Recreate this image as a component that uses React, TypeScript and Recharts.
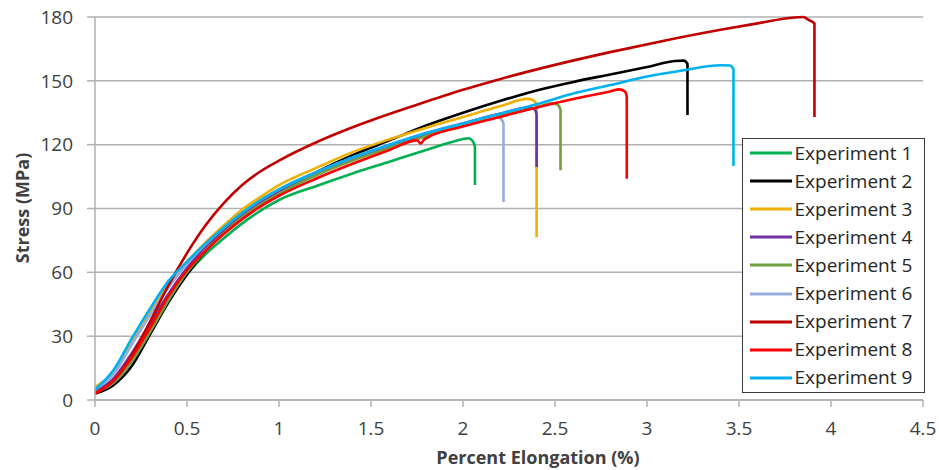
import { LineChart, Line, XAxis, YAxis, CartesianGrid, Legend, Label } from 'recharts'

// ── data ──────────────────────────────────────────────────────────────────────

type Pt = [number, number] // [elongation %, stress MPa]

const exp1: Pt[] = [
  [0, 4], [0.1, 9], [0.2, 19], [0.3, 33], [0.4, 47], [0.5, 59], [0.6, 68.5], [0.7, 76],
  [0.8, 83], [0.9, 89], [1.0, 94], [1.2, 100.5], [1.4, 106.5], [1.6, 112], [1.8, 117.5],
  [1.95, 121.5], [2.03, 123], [2.05, 122], [2.065, 119], [2.065, 101],
]
const exp2: Pt[] = [
  [0, 3], [0.1, 7], [0.2, 16], [0.3, 31], [0.4, 46], [0.5, 59], [0.6, 70], [0.7, 79],
  [0.8, 87], [0.9, 93], [1.0, 98], [1.2, 107], [1.4, 115], [1.6, 122], [1.8, 129], [2.0, 135],
  [2.2, 140.5], [2.4, 145.5], [2.6, 149.5], [2.8, 153], [3.0, 156.5], [3.15, 159.3],
  [3.2, 159.5], [3.22, 158], [3.22, 134],
]
const exp3: Pt[] = [
  [0, 6], [0.1, 13], [0.2, 27], [0.3, 41], [0.4, 54], [0.5, 65], [0.6, 74], [0.7, 82],
  [0.8, 89.5], [0.9, 95.5], [1.0, 101], [1.2, 109], [1.4, 116.5], [1.6, 122.5], [1.8, 128],
  [2.0, 133], [2.2, 138], [2.35, 141.5], [2.38, 141], [2.4, 138.5], [2.4, 76.5],
]
const exp4: Pt[] = [
  [0, 4], [0.1, 10], [0.2, 22], [0.3, 36], [0.4, 50], [0.5, 62], [0.6, 72], [0.7, 80],
  [0.8, 87], [0.9, 93], [1.0, 98], [1.2, 106.5], [1.4, 113.5], [1.6, 119.5], [1.8, 125],
  [2.0, 130], [2.2, 134.5], [2.36, 137.5], [2.39, 136.5], [2.4, 134], [2.4, 109.5],
]
const exp5: Pt[] = [
  [0, 3.5], [0.1, 8], [0.2, 18], [0.3, 32], [0.4, 47], [0.5, 60], [0.6, 70], [0.7, 78.5],
  [0.8, 86], [0.9, 92], [1.0, 97], [1.2, 105.5], [1.4, 112.5], [1.6, 118.5], [1.8, 124],
  [2.0, 129], [2.2, 133.5], [2.4, 137.5], [2.48, 139.5], [2.51, 139], [2.53, 136.5], [2.53, 108],
]
const exp6: Pt[] = [
  [0, 5], [0.1, 12], [0.2, 26], [0.3, 40], [0.4, 53], [0.5, 64], [0.6, 73], [0.7, 81],
  [0.8, 88], [0.9, 94], [1.0, 99], [1.2, 107], [1.4, 114], [1.6, 120], [1.8, 125.5],
  [2.0, 130], [2.17, 133], [2.2, 132.5], [2.22, 130], [2.22, 93],
]
const exp7: Pt[] = [
  [0, 3], [0.1, 9], [0.2, 21], [0.3, 37], [0.4, 54], [0.5, 69], [0.6, 82], [0.7, 92.5],
  [0.8, 101], [0.9, 107.5], [1.0, 112.5], [1.2, 121], [1.45, 129.8], [1.75, 138.8],
  [2.0, 145.8], [2.2, 150.8], [2.5, 157.5], [2.8, 163.5], [3.1, 169],
  [3.4, 174], [3.6, 177], [3.8, 179.8], [3.85, 180], [3.88, 178.5], [3.91, 177], [3.91, 133],
]
const exp8: Pt[] = [
  [0, 3], [0.1, 9], [0.2, 20], [0.3, 34], [0.4, 49], [0.5, 61], [0.6, 70], [0.7, 78],
  [0.8, 85], [0.9, 91], [1.0, 96], [1.2, 104], [1.4, 111], [1.6, 117.5], [1.75, 122],
  [1.77, 120.5], [1.79, 122.5], [2.0, 128.5], [2.2, 133], [2.4, 137.5], [2.6, 141.5],
  [2.8, 145], [2.85, 146], [2.88, 145], [2.89, 142.5], [2.89, 104],
]
const exp9: Pt[] = [
  [0, 5], [0.1, 14], [0.2, 29], [0.3, 43], [0.4, 56], [0.5, 65], [0.6, 73.5], [0.7, 81],
  [0.8, 88], [0.9, 94], [1.0, 99], [1.2, 107], [1.4, 114], [1.6, 120], [1.8, 125.5],
  [2.0, 130], [2.2, 134.5], [2.4, 139], [2.6, 144], [2.8, 148], [3.0, 152], [3.2, 155],
  [3.4, 157.3], [3.45, 157.2], [3.47, 155.5], [3.47, 110],
]

const seriesNames = [
  'Experiment 1', 'Experiment 2', 'Experiment 3', 'Experiment 4', 'Experiment 5',
  'Experiment 6', 'Experiment 7', 'Experiment 8', 'Experiment 9',
]
const seriesData = [exp1, exp2, exp3, exp4, exp5, exp6, exp7, exp8, exp9]
const seriesColors = [
  '#00B050', '#000000', '#F0B000', '#7030A0', '#70A040',
  '#97ABDC', '#C00000', '#FF0000', '#00B0F0',
]

const xTicks = [0, 0.5, 1, 1.5, 2, 2.5, 3, 3.5, 4, 4.5]
const yTicks = [0, 30, 60, 90, 120, 150, 180]

// ── styling ───────────────────────────────────────────────────────────────────

const FONT = "'Open Sans', sans-serif"
const GRID = '#B0B0B0'
const TEXT = '#404040'

function LegendBox() {
  return (
    <div
      style={{
        width: 183,
        height: 255,
        boxSizing: 'border-box',
        border: '1.5px solid #3a3a3a',
        background: '#fff',
        fontFamily: FONT,
        fontSize: 19,
        color: '#262626',
      }}
    >
      {seriesNames.map((name, i) => (
        <div key={name} style={{ height: 28.1, display: 'flex', alignItems: 'center' }}>
          <svg width={42} height={4} style={{ marginLeft: 6.5, flex: 'none' }}>
            <line x1={0} y1={2} x2={42} y2={2} stroke={seriesColors[i]} strokeWidth={3} />
          </svg>
          <span style={{ marginLeft: 3, whiteSpace: 'nowrap', lineHeight: 1 }}>{name}</span>
        </div>
      ))}
    </div>
  )
}

export default function App() {
  return (
    <div style={{ position: 'absolute', left: 0, top: 0, width: 939, height: 470, background: '#fff' }}>
      <LineChart width={939} height={470} margin={{ top: 17, right: 16, bottom: 20, left: 20 }}>
        <CartesianGrid vertical={false} stroke={GRID} strokeWidth={1.5} />
        <XAxis
          dataKey="x"
          type="number"
          domain={[0, 4.5]}
          ticks={xTicks}
          interval={0}
          height={50}
          tickSize={7}
          tickMargin={15}
          axisLine={{ stroke: GRID, strokeWidth: 1.5 }}
          tickLine={{ stroke: GRID, strokeWidth: 1.5 }}
          tick={{ fill: TEXT, fontSize: 19, fontFamily: FONT }}
        >
          <Label
            content={() => (
              <text x={538} y={464} textAnchor="middle" fill={TEXT} fontSize={18}
                fontWeight="bold" fontFamily={FONT}>
                Percent Elongation (%)
              </text>
            )}
          />
        </XAxis>
        <YAxis
          type="number"
          domain={[0, 180]}
          ticks={yTicks}
          interval={0}
          width={75}
          tickSize={8}
          tickMargin={14}
          axisLine={{ stroke: GRID, strokeWidth: 1.5 }}
          tickLine={{ stroke: GRID, strokeWidth: 1.5 }}
          tick={{ fill: TEXT, fontSize: 19, fontFamily: FONT }}
        >
          <Label
            content={() => (
              <text x={29} y={208} textAnchor="middle" fill={TEXT} fontSize={18}
                fontWeight="bold" fontFamily={FONT} transform="rotate(-90 29 208)">
                Stress (MPa)
              </text>
            )}
          />
        </YAxis>
        <Legend
          layout="vertical"
          align="center"
          verticalAlign="middle"
          content={() => <LegendBox />}
          wrapperStyle={{ left: 742, top: 138, width: 183, height: 255 }}
        />
        {seriesData.map((pts, i) => (
          <Line
            key={seriesNames[i]}
            name={seriesNames[i]}
            data={pts.map(([x, y]) => ({ x, y }))}
            dataKey="y"
            type="monotone"
            stroke={seriesColors[i]}
            strokeWidth={2.6}
            dot={false}
            activeDot={false}
            isAnimationActive={false}
          />
        ))}
      </LineChart>
    </div>
  )
}
